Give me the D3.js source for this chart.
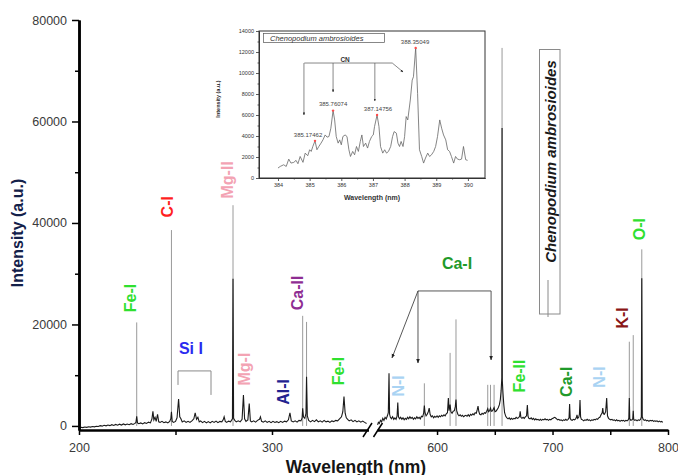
<!DOCTYPE html>
<html>
<head>
<meta charset="utf-8">
<script src="https://cdn.jsdelivr.net/npm/d3@7.9.0/dist/d3.min.js"></script>
<style>
  body { margin: 0; background: #fff; }
  svg { font-family: "Liberation Sans", Arial, sans-serif; }
</style>
</head>
<body>
<svg id="chart" width="678" height="475"></svg>
<script>
// --- spectrum, 200-350 nm segment: [wavelength, intensity]
const baseLow = [
  [200,-350],[201,-250],[202,-320],[203,-200],[204,-280],[205,-150],[206,-230],[207,-100],[208,-180],[209,-60],
  [210,-120],[211,50],[212,-40],[213,120],[214,20],[215,180],[216,60],[217,250],[218,100],[219,300],
  [220,150],[221,350],[222,180],[223,400],[224,220],[225,380],[226,250],[227,450],[228,300],[229,500],
  [229.5,700],[229.9,1900],[230.3,600],[231,450],[232,600],[233,400],[234,650],[235,500],[236,750],[237,600],
  [237.8,1400],[238.3,2900],[238.8,1200],[239.4,1700],[240,900],[240.7,2300],[241.3,800],[242,700],[243,900],[244,650],
  [245,800],[246,600],[247,900],[247.6,1500],[247.9,2800],[248.3,900],[249,700],[250,900],[250.8,1600],[251.6,5300],
  [252.2,1800],[252.8,1400],[253.5,800],[254.5,1000],[255.5,700],[256.5,900],[257.5,700],[258.5,1000],[259.5,1400],[260.2,2600],
  [260.9,1300],[261.6,1700],[262.3,800],[263,1000],[264,650],[265,900],[266,600],[267,850],[268,600],[269,900],
  [270,700],[271,950],[272,650],[273,900],[274,800],[274.7,1200],[275.2,1800],[275.8,900],[276.5,700],[277.5,950],
  [278.5,800],[279.5,1400],[279.8,29000],[280.1,1500],[280.7,1100],[281.5,800],[282.5,1000],[283.5,800],[284.5,1300],[285.2,6100],
  [285.8,1400],[286.5,900],[287.5,1200],[288.2,4400],[288.8,1000],[289.5,800],[290.5,1000],[291.5,750],[292.5,1100],[293.5,1300],
  [294,1800],[294.6,900],[295.5,750],[296.5,1000],[297.5,700],[298.5,900],[299.5,650],[300.5,900],[301.5,700],[302.5,850],
  [303.5,650],[304.5,900],[305.5,700],[306.5,950],[307.5,800],[308.5,1200],[309.3,2600],[310,1000],[311,800],[312,1000],
  [313,750],[314,1100],[315,1000],[315.6,1600],[315.9,3500],[316.3,1800],[317,1500],[317.6,2500],[317.9,9700],[318.3,2000],
  [319,1100],[320,800],[321,1100],[322,850],[323,1200],[324,800],[325,1000],[326,750],[327,1100],[328,800],
  [329,950],[330,700],[331,1000],[332,850],[333,1100],[334,1000],[335,1400],[336,1800],[336.7,2800],[337.3,5800],
  [337.9,2500],[338.5,1600],[339.2,1300],[340,1000],[341,1200],[342,850],[343,1100],[344,800],[345,1000],[346,750],
  [347,950],[348,700],[349,500]
];

// --- spectrum, 548-800 nm segment
const baseHigh = [
  [548.5,200],[549.2,700],[550,500],[551,1100],[552,800],[553,1500],[554,1100],[555,1700],[556,1400],[557,2000],
  [557.8,2600],[558.4,10400],[558.9,2300],[559.6,1700],[560.5,1400],[561.5,1800],[562.5,1300],[563.5,1600],[564.5,1300],[565.4,2000],
  [566,4600],[566.6,1800],[567.5,1400],[568.5,1700],[569.5,1300],[570.5,1600],[571.5,1200],[572.5,1500],[573.5,1300],[574.5,1700],
  [575.5,1400],[576.5,1800],[577.5,1500],[578.5,1700],[579.5,1300],[580.5,1600],[581.5,1400],[582.5,1800],[583.5,1500],[584.5,1700],
  [585.5,1400],[586.5,1900],[587.5,1800],[588.4,2500],[589,4000],[589.6,2600],[590.5,2000],[591.5,2300],[592.4,2800],[593.2,3500],
  [594,2300],[595,1800],[596,2000],[597,1600],[598,1900],[599,1700],[600,2000],[601,1700],[602,2000],[603,1800],
  [604,2100],[605,1900],[606,2200],[607,2000],[608,2400],[609,2600],[609.8,5500],[610.4,3000],[611.3,4200],[612,2800],
  [613,2500],[614,2900],[615,3000],[615.8,3800],[616.4,5200],[617,3000],[618,2300],[619,2000],[620,2200],[621,1900],
  [622,2100],[623,1800],[624,2000],[625,2100],[626,1900],[627,2200],[628,1900],[629,2300],[630,2100],[631,2400],
  [632,2200],[633,2600],[634,2500],[634.8,3200],[635.5,3900],[636.2,2800],[637,2300],[638,2200],[639,2500],[640,2300],
  [641,2600],[642,2500],[643,2900],[643.9,3400],[644.6,2800],[645.5,3000],[646.3,3500],[647,2900],[648,3000],[649.4,3600],
  [650.2,2800],[651,2900],[652,3200],[653,3600],[654,4200],[654.8,5200],[655.5,7000],[656.1,9500],[656.3,58700],[656.5,9000],
  [657.1,6500],[657.8,4200],[658.5,2600],[659.5,1900],[660.5,1600],[661.5,1400],[662.5,1600],[663.5,1300],[664.5,1500],[665.5,1300],
  [666.5,1500],[667.5,1400],[668.5,1700],[669.5,1500],[670.5,1600],[671.5,1900],[672,2900],[672.6,1700],[673.5,1500],[674.5,1700],
  [675.5,1500],[676.5,1800],[677.5,2000],[678.2,4100],[678.8,1900],[679.5,1500],[680.5,1400],[681.5,1600],[682.5,1300],[683.5,1500],
  [684.5,1200],[685.5,1400],[686.5,1200],[687.5,1300],[688.5,1100],[689.5,1300],[690.5,1100],[691.5,1300],[692.5,1200],[693.5,1400],
  [694.5,1200],[695.5,1300],[696.5,1100],[697.5,1300],[698.5,1200],[699.5,1400],[700.5,1500],[701.5,1700],[702.5,1600],[703.5,1400],
  [704.5,1200],[705.5,1300],[706.5,1100],[707.5,1200],[708.5,1000],[709.5,1200],[710.5,1100],[711.5,1300],[712.5,1100],[713.5,1300],
  [714.3,1600],[714.8,4300],[715.3,1500],[716,1200],[717,1100],[718,1300],[719,1200],[720,1400],[720.7,1700],[721.2,2200],
  [721.8,1500],[722.7,1700],[723.3,2300],[723.8,5100],[724.3,1800],[725,1300],[726,1200],[727,1000],[728,1200],[729,1100],
  [730,1300],[731,1100],[732,1200],[733,1000],[734,1200],[735,1100],[736,1300],[737,1200],[738,1400],[739,1300],
  [740,1600],[741,1700],[742,2200],[743,2600],[743.5,3500],[744.1,2400],[745,2300],[746,2800],[746.9,5500],[747.6,2000],
  [748.5,1500],[749.5,1300],[750.5,1200],[751.5,1300],[752.5,1100],[753.5,1200],[754.5,1000],[755.5,1200],[756.5,1000],[757.5,1100],
  [758.5,900],[759.5,1100],[760.5,1000],[761.5,1100],[762.5,900],[763.5,1100],[764.5,1000],[765.5,1200],[766.1,1500],[766.5,5500],
  [766.9,1400],[767.8,1100],[768.8,1200],[769.5,1400],[769.9,3000],[770.3,1300],[771.2,1100],[772.2,1200],[773.2,1000],[774.2,1200],
  [775.2,1100],[776.2,1300],[776.9,1800],[777.3,29100],[777.7,1800],[778.5,1300],[779.5,1100],[780.5,1200],[781.5,1000],[782.5,1100],
  [783.5,900],[784.5,1100],[785.5,1000],[786.5,1100],[787.5,900],[788.5,1000],[789.5,900],[790.5,1000],[791.5,800],[792.5,950],
  [793.5,800],[794.5,900],[795.5,700]
];

// tall emission lines (peak heights)
const linesLow = [[229.9,20400],[247.9,38600],[279.8,43500],[315.9,21700],[317.9,20500]];
const linesHigh = [[589.0,8400],[611.3,14400],[616.4,21000],[643.9,8100],[646.3,8100],[649.4,8100],
                   [656.3,74500],[766.5,16600],[769.9,17900],[777.3,34800]];

// element labels: [text, segment, wavelength, intensity]
const elementLabels = [
  ["Fe-I","low",226.9,25200],["C-I","low",246.1,43200],["Mg-II","low",277.2,48500],
  ["Si I","low",258.0,15200],["Mg-I","low",285.5,11200],["Al-I","low",306.2,6700],
  ["Ca-II","low",313.0,26200],["Fe-I","low",334.7,10800],["N-I","high",566.2,7900],
  ["Ca-I","high",617.3,32100],["Fe-II","high",671.0,9850],["Ca-I","high",711.7,8700],
  ["N-I","high",740.3,9650],["K-I","high",761.0,21300],["O-I","high",774.9,38800]
];
const uprightLabels = new Set([3, 9]);

// Si I bracket [wl left, wl right, top, left end, right end]
const siBracket = [251.3, 268.4, 10840, 8080, 6110];
// Ca-I arrows: bar from/to at height, targets
const caBar = [583.5, 646.8, 26600];
const caTargets = [[561,13400],[583.5,12400],[646.8,13000]];

const yMajor = [0, 20000, 40000, 60000, 80000];
const yMinor = [10000, 30000, 50000, 70000];
const xTicksLow = [200, 250, 300];
const xTicksHigh = [600, 650, 700, 750, 800];

// --- inset (CN band)
const insetTrace = [
  [384.0,950],[384.07,1100],[384.18,1260],[384.26,1100],[384.34,1800],[384.41,1420],[384.5,1490],[384.57,1680],[384.63,1360],[384.7,2050],
  [384.79,1490],[384.86,2370],[384.94,2120],[385.0,2690],[385.05,2530],[385.1,3000],[385.17,3540],[385.23,2690],[385.29,3000],[385.36,3320],
  [385.42,3630],[385.49,4100],[385.55,3890],[385.61,3950],[385.67,4740],[385.74,6420],[385.79,5530],[385.84,3950],[385.9,3320],[385.95,3630],
  [386.0,3160],[386.05,3950],[386.12,4100],[386.18,3950],[386.24,2690],[386.29,2050],[386.36,2530],[386.42,2210],[386.48,3000],[386.54,2530],
  [386.6,3480],[386.65,4100],[386.7,3000],[386.77,3320],[386.83,2850],[386.89,3480],[386.96,3950],[387.01,4100],[387.05,4900],[387.13,6000],
  [387.19,4900],[387.24,3000],[387.31,2370],[387.37,2690],[387.43,2370],[387.49,2530],[387.56,3000],[387.62,3950],[387.67,4420],[387.74,4270],
  [387.79,3320],[387.84,3000],[387.89,3480],[387.95,3000],[388.0,3950],[388.05,5850],[388.1,5530],[388.18,7430],[388.24,9320],[388.28,9640],
  [388.35,12390],[388.41,8060],[388.47,2690],[388.54,2050],[388.6,1420],[388.66,1900],[388.73,2370],[388.79,2050],[388.85,2210],[388.92,2530],
  [388.98,3000],[389.04,3950],[389.11,5530],[389.17,4740],[389.23,4100],[389.3,3630],[389.36,2690],[389.42,2530],[389.48,2050],[389.55,1420],
  [389.61,2050],[389.67,1800],[389.74,1740],[389.8,1800],[389.86,3000],[389.93,1740],[389.99,1680]
];
const insetPeaks = [[385.17,3540],[385.74,6420],[387.13,6000],[388.35,12390]];
const insetPeakText = ["385.17462","385.76074","387.14756","388.35049"];
const insetPeakTextAt = [[384.95,4100],[385.74,7050],[387.16,6570],[388.33,12950]];
const cnBar = [384.83, 387.61, 10950];
const cnTargets = [[384.82,6000],[385.74,8190],[387.06,7330]];
const cnDiagEnd = [387.95, 10100];
const insetYTicks = [0, 2000, 4000, 6000, 8000, 10000, 12000, 14000];
const insetXTicks = [384, 385, 386, 387, 388, 389, 390];

const speciesColor = {
  "Fe-I": "#2fe02f", "Fe-II": "#2fe02f", "O-I": "#2fe02f", "C-I": "#ff1f1f",
  "Mg-II": "#f3a3b3", "Mg-I": "#f3a3b3", "Si I": "#2b2bf0", "Al-I": "#22228f",
  "Ca-II": "#8e2d92", "Ca-I": "#1f9a2a", "N-I": "#a9d3f3", "K-I": "#8a1616"
};

const svg = d3.select("#chart");
const plain = d3.format("d");

const y = d3.scaleLinear().domain([-800, 80000]).range([430, 20]);
const xLow = d3.scaleLinear().domain([200, 350]).range([79, 368.5]);
const xHigh = d3.scaleLinear().domain([548, 800]).range([377, 668]);
const xOf = seg => seg === "low" ? xLow : xHigh;

// arrow markers
const defs = svg.append("defs");
defs.append("marker").attr("id", "arr").attr("viewBox", "0 0 10 10")
  .attr("refX", 9).attr("refY", 5).attr("markerWidth", 5).attr("markerHeight", 5)
  .attr("orient", "auto").append("path").attr("d", "M0,1L10,5L0,9Z").attr("fill", "#222");
defs.append("marker").attr("id", "arrS").attr("viewBox", "0 0 10 10")
  .attr("refX", 9).attr("refY", 5).attr("markerWidth", 4).attr("markerHeight", 4)
  .attr("orient", "auto").append("path").attr("d", "M0,1L10,5L0,9Z").attr("fill", "#222");

// === tall lines (sticks), then spectrum trace ===
[[linesLow, xLow], [linesHigh, xHigh]].forEach(([arr, xs]) => {
  svg.append("g").selectAll("line").data(arr).join("line")
    .attr("x1", d => xs(d[0])).attr("x2", d => xs(d[0]))
    .attr("y1", y(0)).attr("y2", d => y(d[1]))
    .attr("stroke", "#9a9a9a").attr("stroke-width", 1);
});

[[baseLow, xLow], [baseHigh, xHigh]].forEach(([arr, xs]) => {
  svg.append("path").datum(arr)
    .attr("fill", "none").attr("stroke", "#1a1a1a").attr("stroke-width", 1.1)
    .attr("d", d3.line().x(d => xs(d[0])).y(d => y(d[1])));
});

// === axes ===
const yAxisG = svg.append("g").attr("transform", "translate(79,0)");
yAxisG.append("g").call(d3.axisLeft(y).tickValues(yMinor).tickSize(4).tickFormat("").tickSizeOuter(0));
yAxisG.append("g").call(d3.axisLeft(y).tickValues(yMajor).tickFormat(plain).tickSize(7).tickPadding(5).tickSizeOuter(0));

svg.append("g").attr("transform", "translate(0,430)")
  .call(d3.axisBottom(xLow).tickValues(xTicksLow).tickFormat(d => d % 100 ? "" : d)
    .tickSize(5).tickPadding(8).tickSizeOuter(0));
svg.append("g").attr("transform", "translate(0,430)")
  .call(d3.axisBottom(xHigh).tickValues(xTicksHigh).tickFormat(d => d % 100 ? "" : d)
    .tickSize(5).tickPadding(8).tickSizeOuter(0));

svg.selectAll(".domain").attr("stroke", "#000").attr("stroke-width", 2.5);
svg.selectAll(".tick line").attr("stroke", "#000").attr("stroke-width", 1.5);
svg.selectAll(".tick text").attr("font-size", 12.5).attr("fill", "#3a3a3a")
  .attr("font-family", "Liberation Sans, Arial, sans-serif");

// axis break marks
[367.5, 378].forEach(cx => {
  svg.append("line").attr("x1", cx - 4.5).attr("y1", 437).attr("x2", cx + 4.5).attr("y2", 423)
    .attr("stroke", "#000").attr("stroke-width", 1.5);
});

// axis titles
svg.append("text").attr("transform", "translate(17,233) rotate(-90)")
  .attr("text-anchor", "middle").attr("dominant-baseline", "central")
  .attr("font-size", 16).attr("font-weight", "bold").attr("fill", "#14214a")
  .text("Intensity (a.u.)");
svg.append("text").attr("x", 356).attr("y", 472.5).attr("text-anchor", "middle")
  .attr("font-size", 17.5).attr("font-weight", "bold").attr("fill", "#151515")
  .text("Wavelength (nm)");

// === element labels ===
svg.append("g").selectAll("text").data(elementLabels).join("text")
  .attr("transform", (d, i) => {
    const cx = xOf(d[1])(d[2]), cy = y(d[3]);
    return uprightLabels.has(i) ? `translate(${cx},${cy})` : `translate(${cx},${cy}) rotate(-90)`;
  })
  .attr("text-anchor", "middle").attr("dominant-baseline", "central")
  .attr("font-size", 16).attr("font-weight", "bold")
  .attr("fill", d => speciesColor[d[0]])
  .text(d => d[0]);

// Si I bracket
svg.append("path").attr("fill", "none").attr("stroke", "#8a8a8a").attr("stroke-width", 1)
  .attr("d", `M${xLow(siBracket[0])},${y(siBracket[3])}V${y(siBracket[2])}H${xLow(siBracket[1])}V${y(siBracket[4])}`);

// Ca-I arrows
const caG = svg.append("g").attr("stroke", "#444").attr("stroke-width", 0.9).attr("fill", "none");
caG.append("line").attr("x1", xHigh(caBar[0])).attr("x2", xHigh(caBar[1]))
  .attr("y1", y(caBar[2])).attr("y2", y(caBar[2]));
caTargets.forEach((t, i) => {
  const sx = i === 2 ? xHigh(caBar[1]) : xHigh(caBar[0]);
  caG.append("line").attr("x1", sx).attr("y1", y(caBar[2]))
    .attr("x2", xHigh(t[0])).attr("y2", y(t[1])).attr("marker-end", "url(#arr)");
});

// sample legend box
svg.append("rect").attr("x", 539.5).attr("y", 49.5).attr("width", 20.5).attr("height", 264.5)
  .attr("fill", "none").attr("stroke", "#8a8a8a").attr("stroke-width", 1);
svg.append("line").attr("x1", 548).attr("x2", 548).attr("y1", 280).attr("y2", 317)
  .attr("stroke", "#8a8a8a").attr("stroke-width", 1);
svg.append("text").attr("transform", "translate(550,161.5) rotate(-90)")
  .attr("text-anchor", "middle").attr("dominant-baseline", "central")
  .attr("font-size", 15).attr("font-weight", "bold").attr("font-style", "italic").attr("fill", "#1a1a1a")
  .text("Chenopodium ambrosioides");

// === inset ===
const xi = d3.scaleLinear().domain([383.4, 390.54]).range([259, 485]);
const yi = d3.scaleLinear().domain([0, 14000]).range([178, 31]);
const inset = svg.append("g");
inset.append("rect").attr("x", 259).attr("y", 31).attr("width", 226).attr("height", 147)
  .attr("fill", "#fff").attr("stroke", "#333").attr("stroke-width", 1);

const iyG = inset.append("g").attr("transform", "translate(259,0)");
iyG.append("g").call(d3.axisLeft(yi).tickValues(d3.range(1000, 14000, 2000)).tickSize(1.5).tickFormat("").tickSizeOuter(0));
iyG.append("g").call(d3.axisLeft(yi).tickValues(insetYTicks).tickFormat(plain).tickSize(3).tickPadding(2).tickSizeOuter(0));
const ixG = inset.append("g").attr("transform", "translate(0,178)");
ixG.append("g").call(d3.axisBottom(xi).tickValues(d3.range(384.5, 390, 1)).tickSize(1.5).tickFormat("").tickSizeOuter(0));
ixG.append("g").call(d3.axisBottom(xi).tickValues(insetXTicks).tickFormat(plain).tickSize(3).tickPadding(2).tickSizeOuter(0));
inset.selectAll(".domain").attr("stroke", "#333").attr("stroke-width", 1);
inset.selectAll(".tick line").attr("stroke", "#333").attr("stroke-width", 0.8);
inset.selectAll(".tick text").attr("font-size", 5.5).attr("fill", "#333");

inset.append("path").datum(insetTrace)
  .attr("fill", "none").attr("stroke", "#666").attr("stroke-width", 0.8)
  .attr("d", d3.line().x(d => xi(d[0])).y(d => yi(d[1])));

inset.selectAll("circle").data(insetPeaks).join("circle")
  .attr("cx", d => xi(d[0])).attr("cy", d => yi(d[1])).attr("r", 1.2).attr("fill", "#ff4a4a");

inset.append("g").selectAll("text").data(insetPeakText).join("text")
  .attr("x", (d, i) => xi(insetPeakTextAt[i][0])).attr("y", (d, i) => yi(insetPeakTextAt[i][1]))
  .attr("text-anchor", "middle").attr("dominant-baseline", "central")
  .attr("font-size", 6).attr("fill", "#444").text(d => d);

// CN annotation
const cnG = inset.append("g").attr("stroke", "#555").attr("stroke-width", 0.7).attr("fill", "none");
cnG.append("line").attr("x1", xi(cnBar[0])).attr("x2", xi(cnBar[1]))
  .attr("y1", yi(cnBar[2])).attr("y2", yi(cnBar[2]));
cnG.append("line").attr("x1", xi(cnBar[1])).attr("y1", yi(cnBar[2]))
  .attr("x2", xi(cnDiagEnd[0])).attr("y2", yi(cnDiagEnd[1])).attr("marker-end", "url(#arrS)");
cnTargets.forEach(t => {
  cnG.append("line").attr("x1", xi(t[0])).attr("x2", xi(t[0]))
    .attr("y1", yi(cnBar[2])).attr("y2", yi(t[1])).attr("marker-end", "url(#arrS)");
});
inset.append("text").attr("x", xi(386.12)).attr("y", yi(11330)).attr("text-anchor", "middle")
  .attr("dominant-baseline", "central").attr("font-size", 6.5).attr("font-weight", "bold").attr("fill", "#333")
  .text("CN");

// inset legend box
inset.append("rect").attr("x", 263.5).attr("y", 33.5).attr("width", 121).attr("height", 9)
  .attr("fill", "#fff").attr("stroke", "#555").attr("stroke-width", 0.7);
inset.append("text").attr("x", 270).attr("y", 40.5).attr("font-size", 7.5).attr("font-style", "italic")
  .attr("fill", "#333").text("Chenopodium ambrosioides");

// inset axis titles
inset.append("text").attr("transform", "translate(218,99) rotate(-90)")
  .attr("text-anchor", "middle").attr("dominant-baseline", "central")
  .attr("font-size", 5.5).attr("font-weight", "bold").attr("fill", "#222").text("Intensity (a.u.)");
inset.append("text").attr("x", 372).attr("y", 200).attr("text-anchor", "middle")
  .attr("font-size", 7).attr("font-weight", "bold").attr("fill", "#333").text("Wavelength (nm)");
</script>
</body>
</html>
